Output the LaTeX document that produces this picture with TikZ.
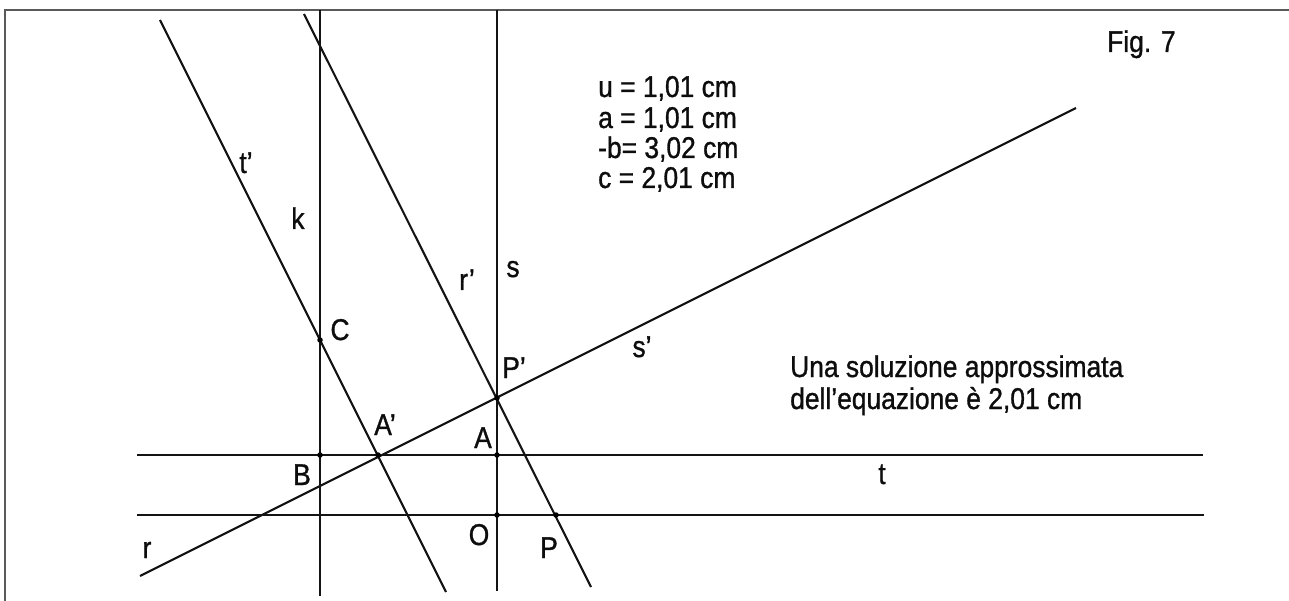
\documentclass[tikz,border=0pt]{standalone}
\usepackage{fontspec}
\setmainfont{Liberation Sans}[FakeStretch=0.88, FakeBold=1]
\begin{document}
\begin{tikzpicture}[x=1pt,y=-1pt,
  geo/.style={line width=2.1pt, draw=black!92},
  frameline/.style={line width=1.2pt, draw=black!65},
  lbl/.style={inner sep=0pt, font=\fontsize{30}{31}\selectfont, text=black!95},
  dot/.style={circle, fill=black, inner sep=0pt, minimum size=5.5pt}]
\useasboundingbox (0,0) rectangle (1289,601);
% frame (only top and left edges visible)
\coordinate (F1) at (5,601);
\coordinate (F2) at (5,10);
\coordinate (F3) at (1289,10);
\draw[frameline] (F1) -- (F2) -- (F3);
% line ends
\coordinate (kT) at (320,10);   \coordinate (kB) at (320,596);
\coordinate (sT) at (497,10);   \coordinate (sB) at (497,591);
\coordinate (tL) at (137,455);  \coordinate (tR) at (1203,455);
\coordinate (oL) at (137,515);  \coordinate (oR) at (1204,515);
\coordinate (tpT) at (160,20);  \coordinate (tpB) at (446,592);
\coordinate (rpT) at (304,14);  \coordinate (rpB) at (591,587);
\coordinate (rL) at (140,576);  \coordinate (rR) at (1076,108);
% lines
\draw[geo] (kT) -- (kB);
\draw[geo] (sT) -- (sB);
\draw[geo] (tL) -- (tR);
\draw[geo] (oL) -- (oR);
\draw[geo] (tpT) -- (tpB);
\draw[geo] (rpT) -- (rpB);
\draw[geo] (rL) -- (rR);
% points
\node[dot] (C) at (320,340) {};
\node[dot] (B) at (320,455) {};
\node[dot] (Ap) at (378,455) {};
\node[dot] (A) at (497,455) {};
\node[dot] (O) at (497,515) {};
\node[dot] (P) at (556,515) {};
\node[dot] (Pp) at (497,398) {};
% labels
\node[lbl, anchor=base] (ltp) at (246,173) {t’};
\node[lbl, anchor=base] (lk) at (298,229) {k};
\node[lbl, anchor=base] (lrp) at (467,290) {r’};
\node[lbl, anchor=base] (ls) at (513,277) {s};
\node[lbl, anchor=base] (lC) at (340,340) {C};
\node[lbl, anchor=base] (lPp) at (514,378) {P’};
\node[lbl, anchor=base] (lsp) at (642,357) {s’};
\node[lbl, anchor=base] (lAp) at (385,435) {A’};
\node[lbl, anchor=base] (lA) at (483,448) {A};
\node[lbl, anchor=base] (lB) at (302,485) {B};
\node[lbl, anchor=base] (lt) at (882,484) {t};
\node[lbl, anchor=base] (lO) at (479,545) {O};
\node[lbl, anchor=base] (lP) at (549,558) {P};
\node[lbl, anchor=base] (lr) at (147,558) {r};
\node[lbl, anchor=base west] (fig) at (1107,52) {Fig. 7};
% data
\node[lbl, anchor=base west] (u1) at (598,97) {u = 1,01 cm};
\node[lbl, anchor=base west] (u2) at (598,128) {a = 1,01 cm};
\node[lbl, anchor=base west] (u3) at (598,158) {-b= 3,02 cm};
\node[lbl, anchor=base west] (u4) at (598,188) {c = 2,01 cm};
\node[lbl, anchor=base west] (sol1) at (790,377) {Una soluzione approssimata};
\node[lbl, anchor=base west] (sol2) at (790,409) {dell’equazione è 2,01 cm};
\end{tikzpicture}
\end{document}
